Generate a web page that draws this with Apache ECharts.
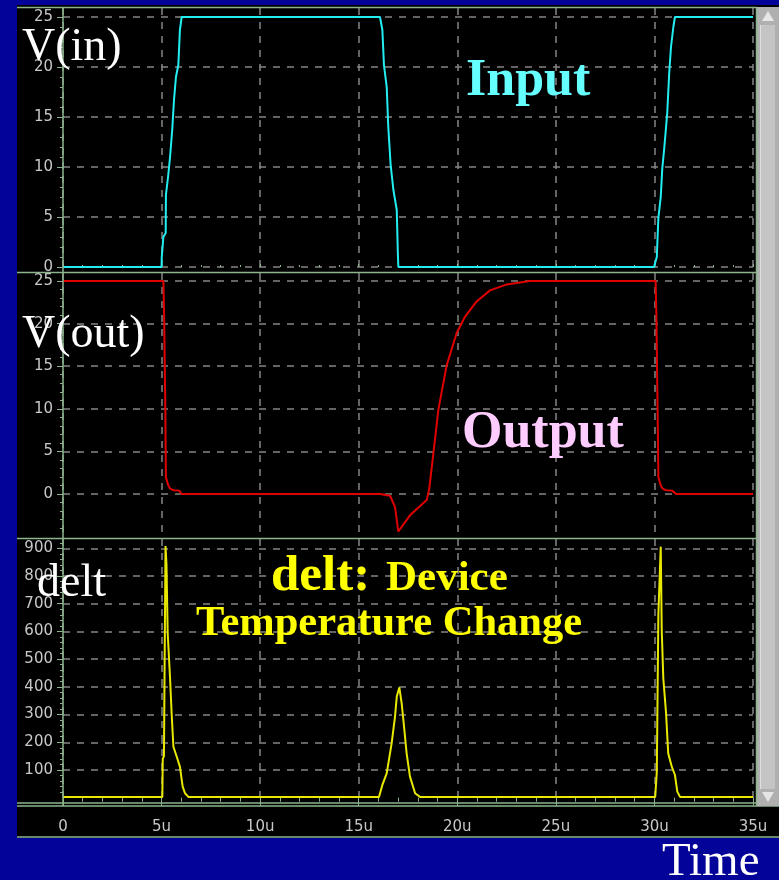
<!DOCTYPE html>
<html><head><meta charset="utf-8">
<script src="https://cdn.jsdelivr.net/npm/echarts@6/dist/echarts.min.js"></script>
<style>html,body{margin:0;padding:0;background:#030399;}#c{width:779px;height:880px;}</style>
</head><body><div id="c"></div>
<script>
// ---- data ----
const timeTicks = [0, 5, 10, 15, 20, 25, 30, 35];
const timeLabels = ['0', '5u', '10u', '15u', '20u', '25u', '30u', '35u'];
const voltTicks = [0, 5, 10, 15, 20, 25];
const deltTicks = [100, 200, 300, 400, 500, 600, 700, 800, 900];

const vinT = [0, 5.0, 5.01, 5.09, 5.21, 5.22, 5.34, 5.43, 5.54, 5.63, 5.73, 5.85, 5.93, 6.02,
  16.08, 16.2, 16.28, 16.42, 16.5, 16.62, 16.76, 16.93, 16.98, 17.01,
  29.98, 30.12, 30.2, 30.32, 30.4, 30.49, 30.59, 30.65, 30.75, 30.84, 30.96, 31.04, 35];
const vinV = [0, 0, 1.0, 3.0, 3.4, 7.2, 9.2, 11.0, 13.7, 16.7, 19.0, 20.2, 23.7, 25,
  25, 23.7, 20.2, 18.0, 14.0, 10.2, 7.7, 5.7, 1.7, 0,
  0, 1.0, 4.9, 7.0, 9.9, 11.7, 14.0, 15.4, 19.4, 22.0, 24.0, 25, 25];

const voutT = [0, 5.09, 5.13, 5.19, 5.22, 5.34, 5.45, 5.6, 5.9, 6.02,
  16.08, 16.59, 16.84, 17.01, 17.6, 18.45, 18.57, 18.75, 19.04, 19.46, 19.97, 20.39, 20.98, 21.66, 22.51, 23.69,
  30.06, 30.1, 30.16, 30.2, 30.32, 30.43, 30.6, 30.9, 31.1, 35];
const voutV = [25, 25, 21, 10, 2.0, 1.0, 0.6, 0.45, 0.4, 0,
  0, -0.2, -1.5, -4.4, -2.5, -0.7, 0.5, 4.0, 9.9, 15.1, 18.9, 20.8, 22.6, 23.9, 24.6, 25,
  25, 21, 10, 2.0, 1.0, 0.6, 0.45, 0.4, 0, 0];

const deltT = [0, 5.04, 5.06, 5.12, 5.2, 5.25, 5.31, 5.43, 5.51, 5.6, 5.77, 5.93, 6.07, 6.19, 6.36,
  16.03, 16.2, 16.42, 16.67, 16.84, 16.93, 17.06, 17.18, 17.3, 17.43, 17.6, 17.86, 18.11,
  30.04, 30.12, 30.2, 30.32, 30.37, 30.45, 30.59, 30.7, 30.88, 31.04, 31.16, 31.3, 35];
const deltV = [3, 3, 140, 150, 908, 840, 594, 432, 305, 184, 148, 112, 40, 16, 3,
  3, 46, 88, 196, 292, 365, 398, 340, 256, 160, 76, 16, 3,
  3, 94, 660, 906, 605, 431, 305, 160, 112, 82, 22, 3, 3];

// ---- styling ----
const GREEN = '#8db48d';
const GRIDC = '#858585';
const LABC = '#c8c8c8';
const LABFONT = 'DejaVu Sans';
const zip = (a, b) => a.map((t, i) => [t, b[i]]);

const chart = echarts.init(document.getElementById('c'), null, {renderer: 'canvas'});

function yAx(i, min, max, split, ticks) {
  return {
    gridIndex: i, type: 'value', min: min, max: max, splitNumber: split,
    axisLine: {show: false},
    axisTick: {show: true, length: 6, lineStyle: {color: GREEN, width: 1}, customValues: ticks},
    minorTick: {show: true, splitNumber: 5, length: 3, lineStyle: {color: GREEN, width: 1}},
    axisLabel: {customValues: ticks, color: LABC, fontSize: 15, fontFamily: LABFONT, margin: 10},
    splitLine: {show: true, lineStyle: {color: GRIDC, type: [7, 7], width: 1.5}}
  };
}
function xAx(i) {
  const base = {
    gridIndex: i, type: 'value', min: 0, max: 35, interval: 5,
    axisLine: {show: false},
    splitLine: {show: true, lineStyle: {color: GRIDC, type: [7, 7], width: 1.5}},
    axisTick: {show: false}, axisLabel: {show: false}, minorTick: {show: false}
  };
  if (i === 0) {
    base.position = 'top'; base.offset = 1;
    base.axisTick = {show: true, length: 3, lineStyle: {color: GREEN}};
    base.minorTick = {show: true, splitNumber: 5, length: 2, lineStyle: {color: GREEN}};
  }
  if (i === 2) {
    base.position = 'bottom'; base.offset = 3;
    base.axisTick = {show: true, length: 8, lineStyle: {color: GREEN, width: 1}};
    base.minorTick = {show: true, splitNumber: 5, length: 4, lineStyle: {color: GREEN, width: 1}};
    base.axisLabel = {show: true, color: LABC, fontSize: 15, fontFamily: LABFONT, margin: 14,
      formatter: v => timeLabels[timeTicks.indexOf(v)] || ''};
  }
  return base;
}
const serif = 'Liberation Serif';
function txt(text, x, y, size, color, bold) {
  return {type: 'text', z: 50, silent: true,
    style: {text: text, x: x, y: y, fill: color, fontSize: size, fontFamily: serif,
      fontWeight: bold ? 'bold' : 'normal', align: 'left', verticalAlign: 'middle'}};
}
function hline(y, x1, x2) {
  return {type: 'line', z: 40, silent: true, shape: {x1: x1, y1: y, x2: x2, y2: y},
    style: {stroke: GREEN, lineWidth: 1.5}};
}

const option = {
  animation: false,
  backgroundColor: '#030399',
  grid: [
    {left: 63, right: 26, top: 8, height: 264},
    {left: 63, right: 26, top: 273, height: 265},
    {left: 63, right: 26, top: 539, height: 264}
  ],
  xAxis: [xAx(0), xAx(1), xAx(2)],
  yAxis: [
    yAx(0, -0.5, 25.9, 5, voltTicks),
    yAx(1, -5.16, 25.94, 5, voltTicks),
    yAx(2, -19.1, 933.6, 10, deltTicks)
  ],
  series: [
    {type: 'line', xAxisIndex: 0, yAxisIndex: 0, data: zip(vinT, vinV), showSymbol: false,
      lineStyle: {color: '#22eef2', width: 2}, z: 5},
    {type: 'line', xAxisIndex: 1, yAxisIndex: 1, data: zip(voutT, voutV), showSymbol: false,
      lineStyle: {color: '#e00000', width: 2}, z: 5},
    {type: 'line', xAxisIndex: 2, yAxisIndex: 2, data: zip(deltT, deltV), showSymbol: false,
      lineStyle: {color: '#e8e800', width: 2}, z: 5}
  ],
  graphic: [
    {type: 'rect', z: -100, silent: true, shape: {x: 17, y: 5, width: 762, height: 833}, style: {fill: '#000'}},
    hline(7.5, 17, 757),
    hline(272.5, 17, 757),
    hline(538.5, 17, 757),
    hline(803, 17, 757),
    hline(806, 17, 779),
    hline(837, 17, 779),
    {type: 'line', z: 40, silent: true, shape: {x1: 63, y1: 7, x2: 63, y2: 806}, style: {stroke: GREEN, lineWidth: 1.5}},
    // scrollbar
    {type: 'rect', z: 45, silent: true, shape: {x: 756, y: 7, width: 23, height: 799}, style: {fill: '#b0b0b0'}},
    {type: 'rect', z: 46, silent: true, shape: {x: 760, y: 25, width: 15, height: 764}, style: {fill: '#c4c4c4'}},
    {type: 'line', z: 47, silent: true, shape: {x1: 760.5, y1: 25, x2: 760.5, y2: 789}, style: {stroke: '#e0e0e0', lineWidth: 1}},
    {type: 'line', z: 47, silent: true, shape: {x1: 756.5, y1: 7, x2: 756.5, y2: 806}, style: {stroke: GREEN, lineWidth: 1.5}},
    {type: 'polygon', z: 47, silent: true, shape: {points: [[768, 11], [762, 21], [774, 21]]}, style: {fill: '#e6e6e6'}},
    {type: 'polygon', z: 47, silent: true, shape: {points: [[762, 792], [774, 792], [768, 802]]}, style: {fill: '#e6e6e6'}},
    // texts
    txt('V(in)', 22, 48, 46, '#ffffff', false),
    txt('V(out)', 22, 335, 46, '#ffffff', false),
    txt('delt', 37, 584, 46, '#ffffff', false),
    txt('Input', 466, 81.5, 52, '#66ffff', true),
    txt('Output', 462, 434, 52, '#ffccff', true),
    txt('delt:', 271, 576.7, 51, '#ffff00', true),
    txt('Device', 386, 579.2, 43, '#ffff00', true),
    txt('Temperature Change', 196, 624, 42.5, '#ffff00', true),
    txt('Time', 662, 862.5, 47, '#ffffff', false)
  ]
};
chart.setOption(option);
</script>
</body></html>
